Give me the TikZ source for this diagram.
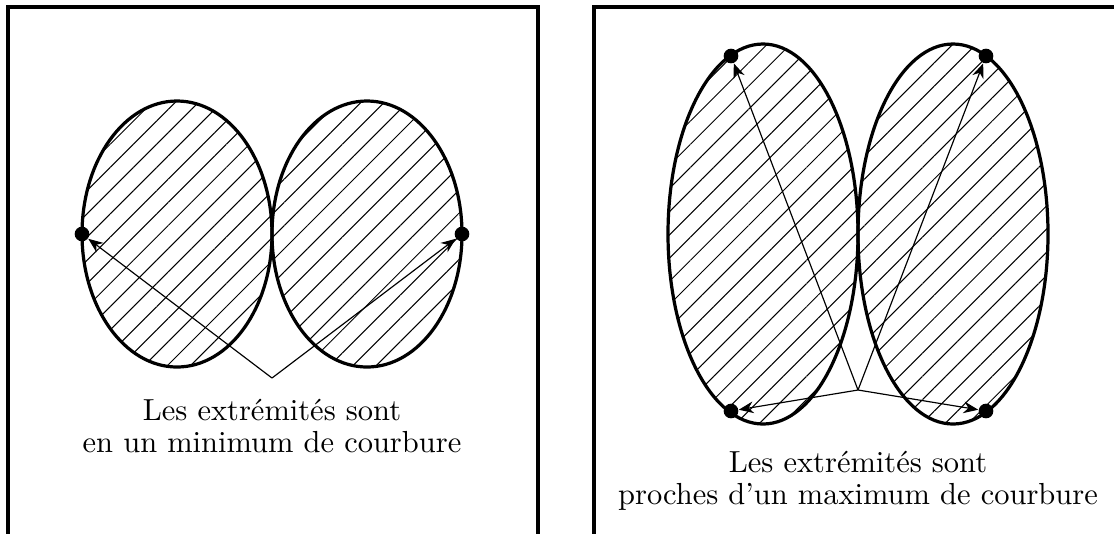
\documentclass[tikz,border=0pt]{standalone}
\usepackage{tikz}
\usetikzlibrary{arrows.meta, positioning, patterns.meta}

\begin{document}
\begin{tikzpicture}[x=0.012cm, y=-0.012cm,
    bord/.style={line width=1.05pt},
    lobe/.style={line width=1.1pt,
      pattern={Lines[angle=45, distance=5.6pt, line width=0.35pt]}},
    extr/.style={circle, fill=black, inner sep=0pt, minimum size=5pt},
    fleche/.style={-{Stealth[length=5pt, width=4pt]}, line width=0.4pt},
    legende/.style={align=center, font=\fontsize{10.4}{11}\selectfont}]

  \useasboundingbox (0,0) rectangle (1114,533);

  % Cadre gauche (ouvert en bas)
  \draw[bord] (8,545) -- (8,7) -- (538,7) -- (538,545);

  % Deux lobes : extremites en un minimum de courbure
  \draw[lobe] (177,234) ellipse [x radius=95, y radius=133];
  \draw[lobe] (367,234) ellipse [x radius=95, y radius=133];

  \node[extr] (minG) at (82,234) {};
  \node[extr] (minD) at (462,234) {};

  \coordinate (srcMin) at (272,378);
  \draw[fleche] (srcMin) -- (minG);
  \draw[fleche] (srcMin) -- (minD);

  \node[legende] (txtMin) at (272,426)
    {Les extrémités sont\\en un minimum de courbure};

  % Cadre droit (ouvert en bas et a droite)
  \draw[bord] (594,545) -- (594,7) -- (1120,7);

  % Deux lobes allonges : extremites proches d'un maximum
  \draw[lobe] (763,234) ellipse [x radius=95, y radius=190];
  \draw[lobe] (953,234) ellipse [x radius=95, y radius=190];

  \node[extr] (maxHG) at (731,56) {};
  \node[extr] (maxBG) at (731,411) {};
  \node[extr] (maxHD) at (986,56) {};
  \node[extr] (maxBD) at (986,411) {};

  \coordinate (srcMax) at (858,390);
  \foreach \p in {maxHG, maxBG, maxHD, maxBD} {
    \draw[fleche] (srcMax) -- (\p);
  }

  \node[legende] (txtMax) at (858,481)
    {Les extrémités sont\\proches d'un maximum de courbure};

\end{tikzpicture}
\end{document}
